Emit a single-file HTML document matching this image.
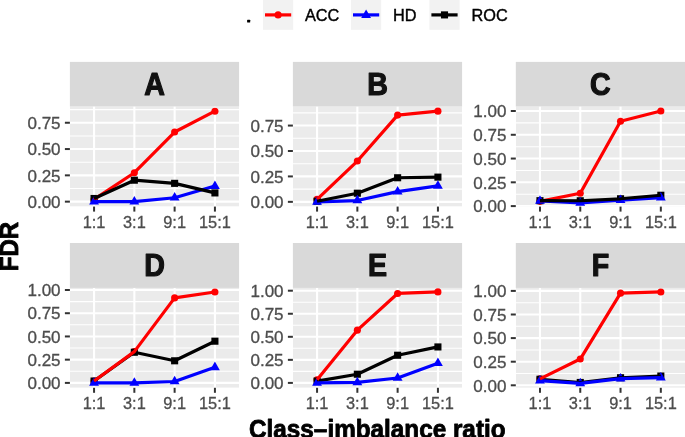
<!DOCTYPE html>
<html><head><meta charset="utf-8"><style>
html,body{margin:0;padding:0;background:#fff;}
body{width:685px;height:437px;overflow:hidden;font-family:"Liberation Sans", sans-serif;}
body>svg{display:block;will-change:transform;}
</style></head><body>
<svg width="685" height="437" viewBox="0 0 685 437">
<rect width="685" height="437" fill="#FFFFFF"/>
<rect x="247.1" y="19.7" width="3.1" height="2.9" fill="#000" rx="0.6"/>
<rect x="263.0" y="0" width="30.2" height="29.8" fill="#F2F2F2"/>
<line x1="265.0" y1="14.9" x2="291.2" y2="14.9" stroke="#FF0000" stroke-width="3.2"/>
<circle cx="278.10" cy="14.90" r="3.55" fill="#FF0000"/>
<text x="305.0" y="21.3" font-family='"Liberation Sans", sans-serif' font-size="16.3" fill="#000" stroke="#000" stroke-width="0.4">ACC</text>
<rect x="351.0" y="0" width="30.2" height="29.8" fill="#F2F2F2"/>
<line x1="353.0" y1="14.9" x2="379.2" y2="14.9" stroke="#0000FF" stroke-width="3.2"/>
<polygon points="366.10,9.53 371.01,18.04 361.19,18.04" fill="#0000FF"/>
<text x="393.1" y="21.3" font-family='"Liberation Sans", sans-serif' font-size="16.3" fill="#000" stroke="#000" stroke-width="0.4">HD</text>
<rect x="429.4" y="0" width="30.2" height="29.8" fill="#F2F2F2"/>
<line x1="431.4" y1="14.9" x2="457.59999999999997" y2="14.9" stroke="#000000" stroke-width="3.2"/>
<rect x="440.95" y="11.35" width="7.10" height="7.10" fill="#000000"/>
<text x="471.5" y="21.3" font-family='"Liberation Sans", sans-serif' font-size="16.3" fill="#000" stroke="#000" stroke-width="0.4">ROC</text>
<rect x="69.89" y="61.9" width="169.2" height="44.70" fill="#D9D9D9"/>
<text transform="translate(154.49,94.70) scale(1,1.092)" text-anchor="middle" font-family='"Liberation Sans", sans-serif' font-weight="bold" font-size="28.6" fill="#111111" stroke="#111111" stroke-width="1.1" stroke-linejoin="round">A</text>
<svg x="69.89" y="106.6" width="169.2" height="100.00" overflow="hidden"><g transform="translate(-69.89,-106.6)">
<rect x="69.89" y="106.6" width="169.2" height="100.00" fill="#EBEBEB"/>
<line x1="69.89" x2="239.08999999999997" y1="188.50" y2="188.50" stroke="#FFF" stroke-width="1.05"/>
<line x1="69.89" x2="239.08999999999997" y1="162.20" y2="162.20" stroke="#FFF" stroke-width="1.05"/>
<line x1="69.89" x2="239.08999999999997" y1="135.90" y2="135.90" stroke="#FFF" stroke-width="1.05"/>
<line x1="69.89" x2="239.08999999999997" y1="109.60" y2="109.60" stroke="#FFF" stroke-width="1.05"/>
<line x1="69.89" x2="239.08999999999997" y1="201.65" y2="201.65" stroke="#FFF" stroke-width="2.1"/>
<line x1="69.89" x2="239.08999999999997" y1="175.35" y2="175.35" stroke="#FFF" stroke-width="2.1"/>
<line x1="69.89" x2="239.08999999999997" y1="149.05" y2="149.05" stroke="#FFF" stroke-width="2.1"/>
<line x1="69.89" x2="239.08999999999997" y1="122.75" y2="122.75" stroke="#FFF" stroke-width="2.1"/>
<line x1="94.06" x2="94.06" y1="106.6" y2="206.6" stroke="#FFF" stroke-width="2.1"/>
<line x1="134.35" x2="134.35" y1="106.6" y2="206.6" stroke="#FFF" stroke-width="2.1"/>
<line x1="174.63" x2="174.63" y1="106.6" y2="206.6" stroke="#FFF" stroke-width="2.1"/>
<line x1="214.92" x2="214.92" y1="106.6" y2="206.6" stroke="#FFF" stroke-width="2.1"/>
<circle cx="94.06" cy="199.44" r="3.55" fill="#FF0000"/>
<circle cx="134.35" cy="172.72" r="3.55" fill="#FF0000"/>
<circle cx="174.63" cy="132.01" r="3.55" fill="#FF0000"/>
<circle cx="214.92" cy="111.18" r="3.55" fill="#FF0000"/>
<rect x="90.51" y="194.94" width="7.10" height="7.10" fill="#000000"/>
<rect x="130.80" y="176.64" width="7.10" height="7.10" fill="#000000"/>
<rect x="171.08" y="179.80" width="7.10" height="7.10" fill="#000000"/>
<rect x="211.37" y="189.37" width="7.10" height="7.10" fill="#000000"/>
<polygon points="94.06,195.98 98.97,204.49 89.15,204.49" fill="#0000FF"/>
<polygon points="134.35,195.98 139.26,204.49 129.44,204.49" fill="#0000FF"/>
<polygon points="174.63,192.09 179.54,200.59 169.72,200.59" fill="#0000FF"/>
<polygon points="214.92,180.41 219.83,188.92 210.01,188.92" fill="#0000FF"/>
<polyline points="94.06,199.44 134.35,172.72 174.63,132.01 214.92,111.18" fill="none" stroke="#FF0000" stroke-width="3.2" stroke-linejoin="round" stroke-linecap="butt"/>
<polyline points="94.06,201.65 134.35,201.65 174.63,197.76 214.92,186.08" fill="none" stroke="#0000FF" stroke-width="3.2" stroke-linejoin="round" stroke-linecap="butt"/>
<polyline points="94.06,198.49 134.35,180.19 174.63,183.35 214.92,192.92" fill="none" stroke="#000000" stroke-width="3.2" stroke-linejoin="round" stroke-linecap="butt"/>
</g></svg>
<line x1="64.89" x2="69.89" y1="201.65" y2="201.65" stroke="#333333" stroke-width="2.0"/>
<text transform="translate(60.59,207.85) scale(1.04,1)" text-anchor="end" font-family='"Liberation Sans", sans-serif' font-size="16.4" fill="#4D4D4D" stroke="#4D4D4D" stroke-width="0.3">0.00</text>
<line x1="64.89" x2="69.89" y1="175.35" y2="175.35" stroke="#333333" stroke-width="2.0"/>
<text transform="translate(60.59,181.55) scale(1.04,1)" text-anchor="end" font-family='"Liberation Sans", sans-serif' font-size="16.4" fill="#4D4D4D" stroke="#4D4D4D" stroke-width="0.3">0.25</text>
<line x1="64.89" x2="69.89" y1="149.05" y2="149.05" stroke="#333333" stroke-width="2.0"/>
<text transform="translate(60.59,155.25) scale(1.04,1)" text-anchor="end" font-family='"Liberation Sans", sans-serif' font-size="16.4" fill="#4D4D4D" stroke="#4D4D4D" stroke-width="0.3">0.50</text>
<line x1="64.89" x2="69.89" y1="122.75" y2="122.75" stroke="#333333" stroke-width="2.0"/>
<text transform="translate(60.59,128.95) scale(1.04,1)" text-anchor="end" font-family='"Liberation Sans", sans-serif' font-size="16.4" fill="#4D4D4D" stroke="#4D4D4D" stroke-width="0.3">0.75</text>
<line x1="94.06" x2="94.06" y1="206.6" y2="211.6" stroke="#333333" stroke-width="2.0"/>
<text transform="translate(94.06,227.80) scale(1.0,1)" text-anchor="middle" font-family='"Liberation Sans", sans-serif' font-size="16.4" fill="#4D4D4D" stroke="#4D4D4D" stroke-width="0.3">1:1</text>
<line x1="134.35" x2="134.35" y1="206.6" y2="211.6" stroke="#333333" stroke-width="2.0"/>
<text transform="translate(134.35,227.80) scale(1.0,1)" text-anchor="middle" font-family='"Liberation Sans", sans-serif' font-size="16.4" fill="#4D4D4D" stroke="#4D4D4D" stroke-width="0.3">3:1</text>
<line x1="174.63" x2="174.63" y1="206.6" y2="211.6" stroke="#333333" stroke-width="2.0"/>
<text transform="translate(174.63,227.80) scale(1.0,1)" text-anchor="middle" font-family='"Liberation Sans", sans-serif' font-size="16.4" fill="#4D4D4D" stroke="#4D4D4D" stroke-width="0.3">9:1</text>
<line x1="214.92" x2="214.92" y1="206.6" y2="211.6" stroke="#333333" stroke-width="2.0"/>
<text transform="translate(214.92,227.80) scale(1.0,1)" text-anchor="middle" font-family='"Liberation Sans", sans-serif' font-size="16.4" fill="#4D4D4D" stroke="#4D4D4D" stroke-width="0.3">15:1</text>
<rect x="292.89" y="61.9" width="169.2" height="44.70" fill="#D9D9D9"/>
<text transform="translate(377.49,94.70) scale(1,1.092)" text-anchor="middle" font-family='"Liberation Sans", sans-serif' font-weight="bold" font-size="28.6" fill="#111111" stroke="#111111" stroke-width="1.1" stroke-linejoin="round">B</text>
<svg x="292.89" y="106.6" width="169.2" height="100.00" overflow="hidden"><g transform="translate(-292.89,-106.6)">
<rect x="292.89" y="106.6" width="169.2" height="100.00" fill="#EBEBEB"/>
<line x1="292.89" x2="462.09" y1="189.14" y2="189.14" stroke="#FFF" stroke-width="1.05"/>
<line x1="292.89" x2="462.09" y1="163.71" y2="163.71" stroke="#FFF" stroke-width="1.05"/>
<line x1="292.89" x2="462.09" y1="138.29" y2="138.29" stroke="#FFF" stroke-width="1.05"/>
<line x1="292.89" x2="462.09" y1="112.86" y2="112.86" stroke="#FFF" stroke-width="1.05"/>
<line x1="292.89" x2="462.09" y1="201.85" y2="201.85" stroke="#FFF" stroke-width="2.1"/>
<line x1="292.89" x2="462.09" y1="176.42" y2="176.42" stroke="#FFF" stroke-width="2.1"/>
<line x1="292.89" x2="462.09" y1="151.00" y2="151.00" stroke="#FFF" stroke-width="2.1"/>
<line x1="292.89" x2="462.09" y1="125.57" y2="125.57" stroke="#FFF" stroke-width="2.1"/>
<line x1="317.06" x2="317.06" y1="106.6" y2="206.6" stroke="#FFF" stroke-width="2.1"/>
<line x1="357.35" x2="357.35" y1="106.6" y2="206.6" stroke="#FFF" stroke-width="2.1"/>
<line x1="397.63" x2="397.63" y1="106.6" y2="206.6" stroke="#FFF" stroke-width="2.1"/>
<line x1="437.92" x2="437.92" y1="106.6" y2="206.6" stroke="#FFF" stroke-width="2.1"/>
<circle cx="317.06" cy="199.41" r="3.55" fill="#FF0000"/>
<circle cx="357.35" cy="161.07" r="3.55" fill="#FF0000"/>
<circle cx="397.63" cy="115.10" r="3.55" fill="#FF0000"/>
<circle cx="437.92" cy="111.13" r="3.55" fill="#FF0000"/>
<rect x="313.51" y="197.69" width="7.10" height="7.10" fill="#000000"/>
<rect x="353.80" y="189.66" width="7.10" height="7.10" fill="#000000"/>
<rect x="394.08" y="174.20" width="7.10" height="7.10" fill="#000000"/>
<rect x="434.37" y="173.59" width="7.10" height="7.10" fill="#000000"/>
<polygon points="317.06,196.18 321.97,204.69 312.15,204.69" fill="#0000FF"/>
<polygon points="357.35,194.86 362.26,203.36 352.44,203.36" fill="#0000FF"/>
<polygon points="397.63,185.91 402.54,194.41 392.72,194.41" fill="#0000FF"/>
<polygon points="437.92,180.21 442.83,188.72 433.01,188.72" fill="#0000FF"/>
<polyline points="317.06,199.41 357.35,161.07 397.63,115.10 437.92,111.13" fill="none" stroke="#FF0000" stroke-width="3.2" stroke-linejoin="round" stroke-linecap="butt"/>
<polyline points="317.06,201.85 357.35,200.53 397.63,191.58 437.92,185.88" fill="none" stroke="#0000FF" stroke-width="3.2" stroke-linejoin="round" stroke-linecap="butt"/>
<polyline points="317.06,201.24 357.35,193.21 397.63,177.75 437.92,177.14" fill="none" stroke="#000000" stroke-width="3.2" stroke-linejoin="round" stroke-linecap="butt"/>
</g></svg>
<line x1="287.89" x2="292.89" y1="201.85" y2="201.85" stroke="#333333" stroke-width="2.0"/>
<text transform="translate(283.59,208.05) scale(1.04,1)" text-anchor="end" font-family='"Liberation Sans", sans-serif' font-size="16.4" fill="#4D4D4D" stroke="#4D4D4D" stroke-width="0.3">0.00</text>
<line x1="287.89" x2="292.89" y1="176.42" y2="176.42" stroke="#333333" stroke-width="2.0"/>
<text transform="translate(283.59,182.62) scale(1.04,1)" text-anchor="end" font-family='"Liberation Sans", sans-serif' font-size="16.4" fill="#4D4D4D" stroke="#4D4D4D" stroke-width="0.3">0.25</text>
<line x1="287.89" x2="292.89" y1="151.00" y2="151.00" stroke="#333333" stroke-width="2.0"/>
<text transform="translate(283.59,157.20) scale(1.04,1)" text-anchor="end" font-family='"Liberation Sans", sans-serif' font-size="16.4" fill="#4D4D4D" stroke="#4D4D4D" stroke-width="0.3">0.50</text>
<line x1="287.89" x2="292.89" y1="125.57" y2="125.57" stroke="#333333" stroke-width="2.0"/>
<text transform="translate(283.59,131.77) scale(1.04,1)" text-anchor="end" font-family='"Liberation Sans", sans-serif' font-size="16.4" fill="#4D4D4D" stroke="#4D4D4D" stroke-width="0.3">0.75</text>
<line x1="317.06" x2="317.06" y1="206.6" y2="211.6" stroke="#333333" stroke-width="2.0"/>
<text transform="translate(317.06,227.80) scale(1.0,1)" text-anchor="middle" font-family='"Liberation Sans", sans-serif' font-size="16.4" fill="#4D4D4D" stroke="#4D4D4D" stroke-width="0.3">1:1</text>
<line x1="357.35" x2="357.35" y1="206.6" y2="211.6" stroke="#333333" stroke-width="2.0"/>
<text transform="translate(357.35,227.80) scale(1.0,1)" text-anchor="middle" font-family='"Liberation Sans", sans-serif' font-size="16.4" fill="#4D4D4D" stroke="#4D4D4D" stroke-width="0.3">3:1</text>
<line x1="397.63" x2="397.63" y1="206.6" y2="211.6" stroke="#333333" stroke-width="2.0"/>
<text transform="translate(397.63,227.80) scale(1.0,1)" text-anchor="middle" font-family='"Liberation Sans", sans-serif' font-size="16.4" fill="#4D4D4D" stroke="#4D4D4D" stroke-width="0.3">9:1</text>
<line x1="437.92" x2="437.92" y1="206.6" y2="211.6" stroke="#333333" stroke-width="2.0"/>
<text transform="translate(437.92,227.80) scale(1.0,1)" text-anchor="middle" font-family='"Liberation Sans", sans-serif' font-size="16.4" fill="#4D4D4D" stroke="#4D4D4D" stroke-width="0.3">15:1</text>
<rect x="515.8" y="61.9" width="169.2" height="44.70" fill="#D9D9D9"/>
<text transform="translate(600.40,94.70) scale(1,1.092)" text-anchor="middle" font-family='"Liberation Sans", sans-serif' font-weight="bold" font-size="28.6" fill="#111111" stroke="#111111" stroke-width="1.1" stroke-linejoin="round">C</text>
<svg x="515.8" y="106.6" width="169.2" height="100.00" overflow="hidden"><g transform="translate(-515.8,-106.6)">
<rect x="515.8" y="106.6" width="169.2" height="100.00" fill="#EBEBEB"/>
<line x1="515.8" x2="685.0" y1="194.21" y2="194.21" stroke="#FFF" stroke-width="1.05"/>
<line x1="515.8" x2="685.0" y1="170.44" y2="170.44" stroke="#FFF" stroke-width="1.05"/>
<line x1="515.8" x2="685.0" y1="146.66" y2="146.66" stroke="#FFF" stroke-width="1.05"/>
<line x1="515.8" x2="685.0" y1="122.89" y2="122.89" stroke="#FFF" stroke-width="1.05"/>
<line x1="515.8" x2="685.0" y1="206.10" y2="206.10" stroke="#FFF" stroke-width="2.1"/>
<line x1="515.8" x2="685.0" y1="182.32" y2="182.32" stroke="#FFF" stroke-width="2.1"/>
<line x1="515.8" x2="685.0" y1="158.55" y2="158.55" stroke="#FFF" stroke-width="2.1"/>
<line x1="515.8" x2="685.0" y1="134.78" y2="134.78" stroke="#FFF" stroke-width="2.1"/>
<line x1="515.8" x2="685.0" y1="111.00" y2="111.00" stroke="#FFF" stroke-width="2.1"/>
<line x1="539.97" x2="539.97" y1="106.6" y2="206.6" stroke="#FFF" stroke-width="2.1"/>
<line x1="580.26" x2="580.26" y1="106.6" y2="206.6" stroke="#FFF" stroke-width="2.1"/>
<line x1="620.54" x2="620.54" y1="106.6" y2="206.6" stroke="#FFF" stroke-width="2.1"/>
<line x1="660.83" x2="660.83" y1="106.6" y2="206.6" stroke="#FFF" stroke-width="2.1"/>
<circle cx="539.97" cy="201.34" r="3.55" fill="#FF0000"/>
<circle cx="580.26" cy="193.26" r="3.55" fill="#FF0000"/>
<circle cx="620.54" cy="121.27" r="3.55" fill="#FF0000"/>
<circle cx="660.83" cy="111.00" r="3.55" fill="#FF0000"/>
<rect x="536.42" y="197.13" width="7.10" height="7.10" fill="#000000"/>
<rect x="576.71" y="197.22" width="7.10" height="7.10" fill="#000000"/>
<rect x="616.99" y="195.23" width="7.10" height="7.10" fill="#000000"/>
<rect x="657.28" y="191.71" width="7.10" height="7.10" fill="#000000"/>
<polygon points="539.97,195.29 544.88,203.80 535.06,203.80" fill="#0000FF"/>
<polygon points="580.26,197.20 585.17,205.70 575.35,205.70" fill="#0000FF"/>
<polygon points="620.54,194.53 625.45,203.04 615.63,203.04" fill="#0000FF"/>
<polygon points="660.83,192.06 665.74,200.57 655.92,200.57" fill="#0000FF"/>
<polyline points="539.97,201.34 580.26,193.26 620.54,121.27 660.83,111.00" fill="none" stroke="#FF0000" stroke-width="3.2" stroke-linejoin="round" stroke-linecap="butt"/>
<polyline points="539.97,200.96 580.26,202.87 620.54,200.20 660.83,197.73" fill="none" stroke="#0000FF" stroke-width="3.2" stroke-linejoin="round" stroke-linecap="butt"/>
<polyline points="539.97,200.68 580.26,200.77 620.54,198.78 660.83,195.26" fill="none" stroke="#000000" stroke-width="3.2" stroke-linejoin="round" stroke-linecap="butt"/>
</g></svg>
<line x1="510.80" x2="515.8" y1="206.10" y2="206.10" stroke="#333333" stroke-width="2.0"/>
<text transform="translate(506.50,212.30) scale(1.04,1)" text-anchor="end" font-family='"Liberation Sans", sans-serif' font-size="16.4" fill="#4D4D4D" stroke="#4D4D4D" stroke-width="0.3">0.00</text>
<line x1="510.80" x2="515.8" y1="182.32" y2="182.32" stroke="#333333" stroke-width="2.0"/>
<text transform="translate(506.50,188.52) scale(1.04,1)" text-anchor="end" font-family='"Liberation Sans", sans-serif' font-size="16.4" fill="#4D4D4D" stroke="#4D4D4D" stroke-width="0.3">0.25</text>
<line x1="510.80" x2="515.8" y1="158.55" y2="158.55" stroke="#333333" stroke-width="2.0"/>
<text transform="translate(506.50,164.75) scale(1.04,1)" text-anchor="end" font-family='"Liberation Sans", sans-serif' font-size="16.4" fill="#4D4D4D" stroke="#4D4D4D" stroke-width="0.3">0.50</text>
<line x1="510.80" x2="515.8" y1="134.78" y2="134.78" stroke="#333333" stroke-width="2.0"/>
<text transform="translate(506.50,140.97) scale(1.04,1)" text-anchor="end" font-family='"Liberation Sans", sans-serif' font-size="16.4" fill="#4D4D4D" stroke="#4D4D4D" stroke-width="0.3">0.75</text>
<line x1="510.80" x2="515.8" y1="111.00" y2="111.00" stroke="#333333" stroke-width="2.0"/>
<text transform="translate(506.50,117.20) scale(1.04,1)" text-anchor="end" font-family='"Liberation Sans", sans-serif' font-size="16.4" fill="#4D4D4D" stroke="#4D4D4D" stroke-width="0.3">1.00</text>
<line x1="539.97" x2="539.97" y1="206.6" y2="211.6" stroke="#333333" stroke-width="2.0"/>
<text transform="translate(539.97,227.80) scale(1.0,1)" text-anchor="middle" font-family='"Liberation Sans", sans-serif' font-size="16.4" fill="#4D4D4D" stroke="#4D4D4D" stroke-width="0.3">1:1</text>
<line x1="580.26" x2="580.26" y1="206.6" y2="211.6" stroke="#333333" stroke-width="2.0"/>
<text transform="translate(580.26,227.80) scale(1.0,1)" text-anchor="middle" font-family='"Liberation Sans", sans-serif' font-size="16.4" fill="#4D4D4D" stroke="#4D4D4D" stroke-width="0.3">3:1</text>
<line x1="620.54" x2="620.54" y1="206.6" y2="211.6" stroke="#333333" stroke-width="2.0"/>
<text transform="translate(620.54,227.80) scale(1.0,1)" text-anchor="middle" font-family='"Liberation Sans", sans-serif' font-size="16.4" fill="#4D4D4D" stroke="#4D4D4D" stroke-width="0.3">9:1</text>
<line x1="660.83" x2="660.83" y1="206.6" y2="211.6" stroke="#333333" stroke-width="2.0"/>
<text transform="translate(660.83,227.80) scale(1.0,1)" text-anchor="middle" font-family='"Liberation Sans", sans-serif' font-size="16.4" fill="#4D4D4D" stroke="#4D4D4D" stroke-width="0.3">15:1</text>
<rect x="69.89" y="243.0" width="169.2" height="44.90" fill="#D9D9D9"/>
<text transform="translate(154.49,275.80) scale(1,1.092)" text-anchor="middle" font-family='"Liberation Sans", sans-serif' font-weight="bold" font-size="28.6" fill="#111111" stroke="#111111" stroke-width="1.1" stroke-linejoin="round">D</text>
<svg x="69.89" y="287.9" width="169.2" height="99.90" overflow="hidden"><g transform="translate(-69.89,-287.9)">
<rect x="69.89" y="287.9" width="169.2" height="99.90" fill="#EBEBEB"/>
<line x1="69.89" x2="239.08999999999997" y1="371.29" y2="371.29" stroke="#FFF" stroke-width="1.05"/>
<line x1="69.89" x2="239.08999999999997" y1="348.06" y2="348.06" stroke="#FFF" stroke-width="1.05"/>
<line x1="69.89" x2="239.08999999999997" y1="324.84" y2="324.84" stroke="#FFF" stroke-width="1.05"/>
<line x1="69.89" x2="239.08999999999997" y1="301.61" y2="301.61" stroke="#FFF" stroke-width="1.05"/>
<line x1="69.89" x2="239.08999999999997" y1="382.90" y2="382.90" stroke="#FFF" stroke-width="2.1"/>
<line x1="69.89" x2="239.08999999999997" y1="359.67" y2="359.67" stroke="#FFF" stroke-width="2.1"/>
<line x1="69.89" x2="239.08999999999997" y1="336.45" y2="336.45" stroke="#FFF" stroke-width="2.1"/>
<line x1="69.89" x2="239.08999999999997" y1="313.22" y2="313.22" stroke="#FFF" stroke-width="2.1"/>
<line x1="69.89" x2="239.08999999999997" y1="290.00" y2="290.00" stroke="#FFF" stroke-width="2.1"/>
<line x1="94.06" x2="94.06" y1="287.9" y2="387.8" stroke="#FFF" stroke-width="2.1"/>
<line x1="134.35" x2="134.35" y1="287.9" y2="387.8" stroke="#FFF" stroke-width="2.1"/>
<line x1="174.63" x2="174.63" y1="287.9" y2="387.8" stroke="#FFF" stroke-width="2.1"/>
<line x1="214.92" x2="214.92" y1="287.9" y2="387.8" stroke="#FFF" stroke-width="2.1"/>
<circle cx="94.06" cy="381.04" r="3.55" fill="#FF0000"/>
<circle cx="134.35" cy="351.59" r="3.55" fill="#FF0000"/>
<circle cx="174.63" cy="297.90" r="3.55" fill="#FF0000"/>
<circle cx="214.92" cy="292.04" r="3.55" fill="#FF0000"/>
<rect x="90.51" y="377.49" width="7.10" height="7.10" fill="#000000"/>
<rect x="130.80" y="348.69" width="7.10" height="7.10" fill="#000000"/>
<rect x="171.08" y="357.24" width="7.10" height="7.10" fill="#000000"/>
<rect x="211.37" y="337.64" width="7.10" height="7.10" fill="#000000"/>
<polygon points="94.06,377.23 98.97,385.73 89.15,385.73" fill="#0000FF"/>
<polygon points="134.35,377.23 139.26,385.73 129.44,385.73" fill="#0000FF"/>
<polygon points="174.63,375.84 179.54,384.34 169.72,384.34" fill="#0000FF"/>
<polygon points="214.92,361.62 219.83,370.13 210.01,370.13" fill="#0000FF"/>
<polyline points="94.06,381.04 134.35,352.24 174.63,360.79 214.92,341.19" fill="none" stroke="#000000" stroke-width="3.2" stroke-linejoin="round" stroke-linecap="butt"/>
<polyline points="94.06,382.90 134.35,382.90 174.63,381.51 214.92,367.29" fill="none" stroke="#0000FF" stroke-width="3.2" stroke-linejoin="round" stroke-linecap="butt"/>
<polyline points="94.06,381.04 134.35,351.59 174.63,297.90 214.92,292.04" fill="none" stroke="#FF0000" stroke-width="3.2" stroke-linejoin="round" stroke-linecap="butt"/>
</g></svg>
<line x1="64.89" x2="69.89" y1="382.90" y2="382.90" stroke="#333333" stroke-width="2.0"/>
<text transform="translate(60.59,389.10) scale(1.04,1)" text-anchor="end" font-family='"Liberation Sans", sans-serif' font-size="16.4" fill="#4D4D4D" stroke="#4D4D4D" stroke-width="0.3">0.00</text>
<line x1="64.89" x2="69.89" y1="359.67" y2="359.67" stroke="#333333" stroke-width="2.0"/>
<text transform="translate(60.59,365.87) scale(1.04,1)" text-anchor="end" font-family='"Liberation Sans", sans-serif' font-size="16.4" fill="#4D4D4D" stroke="#4D4D4D" stroke-width="0.3">0.25</text>
<line x1="64.89" x2="69.89" y1="336.45" y2="336.45" stroke="#333333" stroke-width="2.0"/>
<text transform="translate(60.59,342.65) scale(1.04,1)" text-anchor="end" font-family='"Liberation Sans", sans-serif' font-size="16.4" fill="#4D4D4D" stroke="#4D4D4D" stroke-width="0.3">0.50</text>
<line x1="64.89" x2="69.89" y1="313.22" y2="313.22" stroke="#333333" stroke-width="2.0"/>
<text transform="translate(60.59,319.42) scale(1.04,1)" text-anchor="end" font-family='"Liberation Sans", sans-serif' font-size="16.4" fill="#4D4D4D" stroke="#4D4D4D" stroke-width="0.3">0.75</text>
<line x1="64.89" x2="69.89" y1="290.00" y2="290.00" stroke="#333333" stroke-width="2.0"/>
<text transform="translate(60.59,296.20) scale(1.04,1)" text-anchor="end" font-family='"Liberation Sans", sans-serif' font-size="16.4" fill="#4D4D4D" stroke="#4D4D4D" stroke-width="0.3">1.00</text>
<line x1="94.06" x2="94.06" y1="387.8" y2="392.8" stroke="#333333" stroke-width="2.0"/>
<text transform="translate(94.06,409.00) scale(1.0,1)" text-anchor="middle" font-family='"Liberation Sans", sans-serif' font-size="16.4" fill="#4D4D4D" stroke="#4D4D4D" stroke-width="0.3">1:1</text>
<line x1="134.35" x2="134.35" y1="387.8" y2="392.8" stroke="#333333" stroke-width="2.0"/>
<text transform="translate(134.35,409.00) scale(1.0,1)" text-anchor="middle" font-family='"Liberation Sans", sans-serif' font-size="16.4" fill="#4D4D4D" stroke="#4D4D4D" stroke-width="0.3">3:1</text>
<line x1="174.63" x2="174.63" y1="387.8" y2="392.8" stroke="#333333" stroke-width="2.0"/>
<text transform="translate(174.63,409.00) scale(1.0,1)" text-anchor="middle" font-family='"Liberation Sans", sans-serif' font-size="16.4" fill="#4D4D4D" stroke="#4D4D4D" stroke-width="0.3">9:1</text>
<line x1="214.92" x2="214.92" y1="387.8" y2="392.8" stroke="#333333" stroke-width="2.0"/>
<text transform="translate(214.92,409.00) scale(1.0,1)" text-anchor="middle" font-family='"Liberation Sans", sans-serif' font-size="16.4" fill="#4D4D4D" stroke="#4D4D4D" stroke-width="0.3">15:1</text>
<rect x="292.89" y="243.0" width="169.2" height="44.90" fill="#D9D9D9"/>
<text transform="translate(377.49,275.80) scale(1,1.092)" text-anchor="middle" font-family='"Liberation Sans", sans-serif' font-weight="bold" font-size="28.6" fill="#111111" stroke="#111111" stroke-width="1.1" stroke-linejoin="round">E</text>
<svg x="292.89" y="287.9" width="169.2" height="99.90" overflow="hidden"><g transform="translate(-292.89,-287.9)">
<rect x="292.89" y="287.9" width="169.2" height="99.90" fill="#EBEBEB"/>
<line x1="292.89" x2="462.09" y1="371.38" y2="371.38" stroke="#FFF" stroke-width="1.05"/>
<line x1="292.89" x2="462.09" y1="348.32" y2="348.32" stroke="#FFF" stroke-width="1.05"/>
<line x1="292.89" x2="462.09" y1="325.27" y2="325.27" stroke="#FFF" stroke-width="1.05"/>
<line x1="292.89" x2="462.09" y1="302.22" y2="302.22" stroke="#FFF" stroke-width="1.05"/>
<line x1="292.89" x2="462.09" y1="382.90" y2="382.90" stroke="#FFF" stroke-width="2.1"/>
<line x1="292.89" x2="462.09" y1="359.85" y2="359.85" stroke="#FFF" stroke-width="2.1"/>
<line x1="292.89" x2="462.09" y1="336.80" y2="336.80" stroke="#FFF" stroke-width="2.1"/>
<line x1="292.89" x2="462.09" y1="313.75" y2="313.75" stroke="#FFF" stroke-width="2.1"/>
<line x1="292.89" x2="462.09" y1="290.70" y2="290.70" stroke="#FFF" stroke-width="2.1"/>
<line x1="317.06" x2="317.06" y1="287.9" y2="387.8" stroke="#FFF" stroke-width="2.1"/>
<line x1="357.35" x2="357.35" y1="287.9" y2="387.8" stroke="#FFF" stroke-width="2.1"/>
<line x1="397.63" x2="397.63" y1="287.9" y2="387.8" stroke="#FFF" stroke-width="2.1"/>
<line x1="437.92" x2="437.92" y1="287.9" y2="387.8" stroke="#FFF" stroke-width="2.1"/>
<circle cx="317.06" cy="379.77" r="3.55" fill="#FF0000"/>
<circle cx="357.35" cy="330.16" r="3.55" fill="#FF0000"/>
<circle cx="397.63" cy="293.47" r="3.55" fill="#FF0000"/>
<circle cx="437.92" cy="291.90" r="3.55" fill="#FF0000"/>
<rect x="313.51" y="377.51" width="7.10" height="7.10" fill="#000000"/>
<rect x="353.80" y="370.68" width="7.10" height="7.10" fill="#000000"/>
<rect x="394.08" y="351.69" width="7.10" height="7.10" fill="#000000"/>
<rect x="434.37" y="343.39" width="7.10" height="7.10" fill="#000000"/>
<polygon points="317.06,377.23 321.97,385.73 312.15,385.73" fill="#0000FF"/>
<polygon points="357.35,376.68 362.26,385.18 352.44,385.18" fill="#0000FF"/>
<polygon points="397.63,372.34 402.54,380.85 392.72,380.85" fill="#0000FF"/>
<polygon points="437.92,357.59 442.83,366.10 433.01,366.10" fill="#0000FF"/>
<polyline points="317.06,381.06 357.35,374.23 397.63,355.24 437.92,346.94" fill="none" stroke="#000000" stroke-width="3.2" stroke-linejoin="round" stroke-linecap="butt"/>
<polyline points="317.06,382.90 357.35,382.35 397.63,378.01 437.92,363.26" fill="none" stroke="#0000FF" stroke-width="3.2" stroke-linejoin="round" stroke-linecap="butt"/>
<polyline points="317.06,379.77 357.35,330.16 397.63,293.47 437.92,291.90" fill="none" stroke="#FF0000" stroke-width="3.2" stroke-linejoin="round" stroke-linecap="butt"/>
</g></svg>
<line x1="287.89" x2="292.89" y1="382.90" y2="382.90" stroke="#333333" stroke-width="2.0"/>
<text transform="translate(283.59,389.10) scale(1.04,1)" text-anchor="end" font-family='"Liberation Sans", sans-serif' font-size="16.4" fill="#4D4D4D" stroke="#4D4D4D" stroke-width="0.3">0.00</text>
<line x1="287.89" x2="292.89" y1="359.85" y2="359.85" stroke="#333333" stroke-width="2.0"/>
<text transform="translate(283.59,366.05) scale(1.04,1)" text-anchor="end" font-family='"Liberation Sans", sans-serif' font-size="16.4" fill="#4D4D4D" stroke="#4D4D4D" stroke-width="0.3">0.25</text>
<line x1="287.89" x2="292.89" y1="336.80" y2="336.80" stroke="#333333" stroke-width="2.0"/>
<text transform="translate(283.59,343.00) scale(1.04,1)" text-anchor="end" font-family='"Liberation Sans", sans-serif' font-size="16.4" fill="#4D4D4D" stroke="#4D4D4D" stroke-width="0.3">0.50</text>
<line x1="287.89" x2="292.89" y1="313.75" y2="313.75" stroke="#333333" stroke-width="2.0"/>
<text transform="translate(283.59,319.95) scale(1.04,1)" text-anchor="end" font-family='"Liberation Sans", sans-serif' font-size="16.4" fill="#4D4D4D" stroke="#4D4D4D" stroke-width="0.3">0.75</text>
<line x1="287.89" x2="292.89" y1="290.70" y2="290.70" stroke="#333333" stroke-width="2.0"/>
<text transform="translate(283.59,296.90) scale(1.04,1)" text-anchor="end" font-family='"Liberation Sans", sans-serif' font-size="16.4" fill="#4D4D4D" stroke="#4D4D4D" stroke-width="0.3">1.00</text>
<line x1="317.06" x2="317.06" y1="387.8" y2="392.8" stroke="#333333" stroke-width="2.0"/>
<text transform="translate(317.06,409.00) scale(1.0,1)" text-anchor="middle" font-family='"Liberation Sans", sans-serif' font-size="16.4" fill="#4D4D4D" stroke="#4D4D4D" stroke-width="0.3">1:1</text>
<line x1="357.35" x2="357.35" y1="387.8" y2="392.8" stroke="#333333" stroke-width="2.0"/>
<text transform="translate(357.35,409.00) scale(1.0,1)" text-anchor="middle" font-family='"Liberation Sans", sans-serif' font-size="16.4" fill="#4D4D4D" stroke="#4D4D4D" stroke-width="0.3">3:1</text>
<line x1="397.63" x2="397.63" y1="387.8" y2="392.8" stroke="#333333" stroke-width="2.0"/>
<text transform="translate(397.63,409.00) scale(1.0,1)" text-anchor="middle" font-family='"Liberation Sans", sans-serif' font-size="16.4" fill="#4D4D4D" stroke="#4D4D4D" stroke-width="0.3">9:1</text>
<line x1="437.92" x2="437.92" y1="387.8" y2="392.8" stroke="#333333" stroke-width="2.0"/>
<text transform="translate(437.92,409.00) scale(1.0,1)" text-anchor="middle" font-family='"Liberation Sans", sans-serif' font-size="16.4" fill="#4D4D4D" stroke="#4D4D4D" stroke-width="0.3">15:1</text>
<rect x="515.8" y="243.0" width="169.2" height="44.90" fill="#D9D9D9"/>
<text transform="translate(600.40,275.80) scale(1,1.092)" text-anchor="middle" font-family='"Liberation Sans", sans-serif' font-weight="bold" font-size="28.6" fill="#111111" stroke="#111111" stroke-width="1.1" stroke-linejoin="round">F</text>
<svg x="515.8" y="287.9" width="169.2" height="99.90" overflow="hidden"><g transform="translate(-515.8,-287.9)">
<rect x="515.8" y="287.9" width="169.2" height="99.90" fill="#EBEBEB"/>
<line x1="515.8" x2="685.0" y1="373.50" y2="373.50" stroke="#FFF" stroke-width="1.05"/>
<line x1="515.8" x2="685.0" y1="349.90" y2="349.90" stroke="#FFF" stroke-width="1.05"/>
<line x1="515.8" x2="685.0" y1="326.30" y2="326.30" stroke="#FFF" stroke-width="1.05"/>
<line x1="515.8" x2="685.0" y1="302.70" y2="302.70" stroke="#FFF" stroke-width="1.05"/>
<line x1="515.8" x2="685.0" y1="385.30" y2="385.30" stroke="#FFF" stroke-width="2.1"/>
<line x1="515.8" x2="685.0" y1="361.70" y2="361.70" stroke="#FFF" stroke-width="2.1"/>
<line x1="515.8" x2="685.0" y1="338.10" y2="338.10" stroke="#FFF" stroke-width="2.1"/>
<line x1="515.8" x2="685.0" y1="314.50" y2="314.50" stroke="#FFF" stroke-width="2.1"/>
<line x1="515.8" x2="685.0" y1="290.90" y2="290.90" stroke="#FFF" stroke-width="2.1"/>
<line x1="539.97" x2="539.97" y1="287.9" y2="387.8" stroke="#FFF" stroke-width="2.1"/>
<line x1="580.26" x2="580.26" y1="287.9" y2="387.8" stroke="#FFF" stroke-width="2.1"/>
<line x1="620.54" x2="620.54" y1="287.9" y2="387.8" stroke="#FFF" stroke-width="2.1"/>
<line x1="660.83" x2="660.83" y1="287.9" y2="387.8" stroke="#FFF" stroke-width="2.1"/>
<circle cx="539.97" cy="378.88" r="3.55" fill="#FF0000"/>
<circle cx="580.26" cy="359.06" r="3.55" fill="#FF0000"/>
<circle cx="620.54" cy="293.17" r="3.55" fill="#FF0000"/>
<circle cx="660.83" cy="291.94" r="3.55" fill="#FF0000"/>
<rect x="536.42" y="375.71" width="7.10" height="7.10" fill="#000000"/>
<rect x="576.71" y="378.92" width="7.10" height="7.10" fill="#000000"/>
<rect x="616.99" y="374.20" width="7.10" height="7.10" fill="#000000"/>
<rect x="657.28" y="372.50" width="7.10" height="7.10" fill="#000000"/>
<polygon points="539.97,375.00 544.88,383.51 535.06,383.51" fill="#0000FF"/>
<polygon points="580.26,377.65 585.17,386.15 575.35,386.15" fill="#0000FF"/>
<polygon points="620.54,372.93 625.45,381.43 615.63,381.43" fill="#0000FF"/>
<polygon points="660.83,371.98 665.74,380.49 655.92,380.49" fill="#0000FF"/>
<polyline points="539.97,379.26 580.26,382.47 620.54,377.75 660.83,376.05" fill="none" stroke="#000000" stroke-width="3.2" stroke-linejoin="round" stroke-linecap="butt"/>
<polyline points="539.97,380.67 580.26,383.32 620.54,378.60 660.83,377.65" fill="none" stroke="#0000FF" stroke-width="3.2" stroke-linejoin="round" stroke-linecap="butt"/>
<polyline points="539.97,378.88 580.26,359.06 620.54,293.17 660.83,291.94" fill="none" stroke="#FF0000" stroke-width="3.2" stroke-linejoin="round" stroke-linecap="butt"/>
</g></svg>
<line x1="510.80" x2="515.8" y1="385.30" y2="385.30" stroke="#333333" stroke-width="2.0"/>
<text transform="translate(506.50,391.50) scale(1.04,1)" text-anchor="end" font-family='"Liberation Sans", sans-serif' font-size="16.4" fill="#4D4D4D" stroke="#4D4D4D" stroke-width="0.3">0.00</text>
<line x1="510.80" x2="515.8" y1="361.70" y2="361.70" stroke="#333333" stroke-width="2.0"/>
<text transform="translate(506.50,367.90) scale(1.04,1)" text-anchor="end" font-family='"Liberation Sans", sans-serif' font-size="16.4" fill="#4D4D4D" stroke="#4D4D4D" stroke-width="0.3">0.25</text>
<line x1="510.80" x2="515.8" y1="338.10" y2="338.10" stroke="#333333" stroke-width="2.0"/>
<text transform="translate(506.50,344.30) scale(1.04,1)" text-anchor="end" font-family='"Liberation Sans", sans-serif' font-size="16.4" fill="#4D4D4D" stroke="#4D4D4D" stroke-width="0.3">0.50</text>
<line x1="510.80" x2="515.8" y1="314.50" y2="314.50" stroke="#333333" stroke-width="2.0"/>
<text transform="translate(506.50,320.70) scale(1.04,1)" text-anchor="end" font-family='"Liberation Sans", sans-serif' font-size="16.4" fill="#4D4D4D" stroke="#4D4D4D" stroke-width="0.3">0.75</text>
<line x1="510.80" x2="515.8" y1="290.90" y2="290.90" stroke="#333333" stroke-width="2.0"/>
<text transform="translate(506.50,297.10) scale(1.04,1)" text-anchor="end" font-family='"Liberation Sans", sans-serif' font-size="16.4" fill="#4D4D4D" stroke="#4D4D4D" stroke-width="0.3">1.00</text>
<line x1="539.97" x2="539.97" y1="387.8" y2="392.8" stroke="#333333" stroke-width="2.0"/>
<text transform="translate(539.97,409.00) scale(1.0,1)" text-anchor="middle" font-family='"Liberation Sans", sans-serif' font-size="16.4" fill="#4D4D4D" stroke="#4D4D4D" stroke-width="0.3">1:1</text>
<line x1="580.26" x2="580.26" y1="387.8" y2="392.8" stroke="#333333" stroke-width="2.0"/>
<text transform="translate(580.26,409.00) scale(1.0,1)" text-anchor="middle" font-family='"Liberation Sans", sans-serif' font-size="16.4" fill="#4D4D4D" stroke="#4D4D4D" stroke-width="0.3">3:1</text>
<line x1="620.54" x2="620.54" y1="387.8" y2="392.8" stroke="#333333" stroke-width="2.0"/>
<text transform="translate(620.54,409.00) scale(1.0,1)" text-anchor="middle" font-family='"Liberation Sans", sans-serif' font-size="16.4" fill="#4D4D4D" stroke="#4D4D4D" stroke-width="0.3">9:1</text>
<line x1="660.83" x2="660.83" y1="387.8" y2="392.8" stroke="#333333" stroke-width="2.0"/>
<text transform="translate(660.83,409.00) scale(1.0,1)" text-anchor="middle" font-family='"Liberation Sans", sans-serif' font-size="16.4" fill="#4D4D4D" stroke="#4D4D4D" stroke-width="0.3">15:1</text>
<text transform="translate(377.3,438.2) scale(1,1.044)" text-anchor="middle" font-family='"Liberation Sans", sans-serif' font-weight="bold" font-size="24.3" fill="#000" stroke="#000" stroke-width="0.8" stroke-linejoin="round">Class–imbalance ratio</text>
<text transform="translate(17.5,246.5) rotate(-90) scale(1,1.07)" text-anchor="middle" font-family='"Liberation Sans", sans-serif' font-weight="bold" font-size="24.0" fill="#000" stroke="#000" stroke-width="0.8" stroke-linejoin="round">FDR</text>
</svg>
</body></html>
